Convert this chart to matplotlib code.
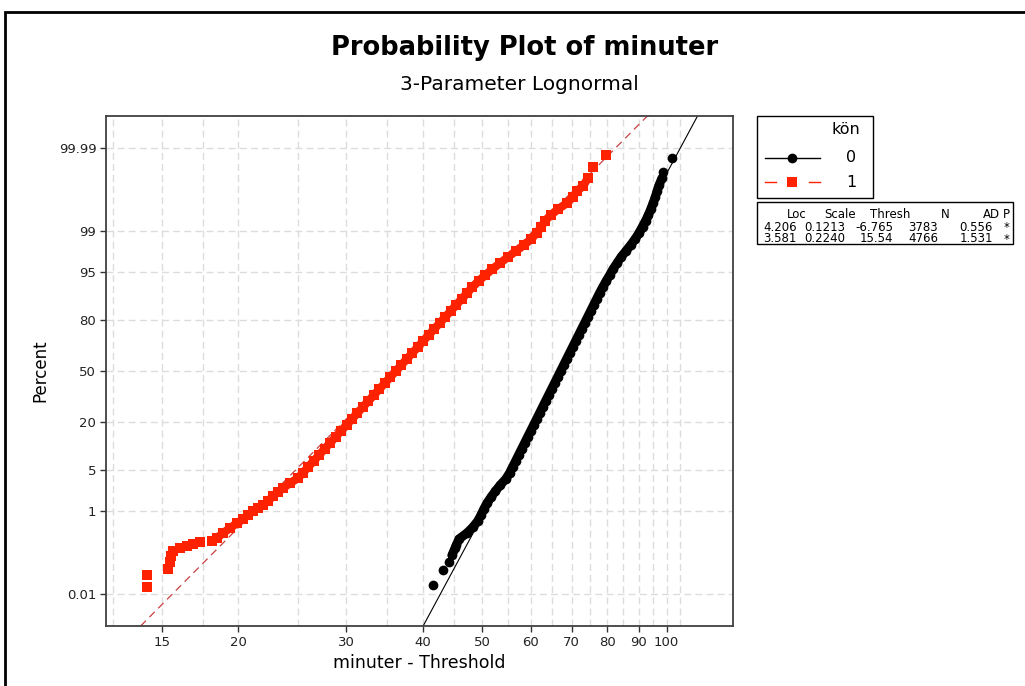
import numpy as np
import matplotlib.pyplot as plt
from matplotlib.lines import Line2D
from matplotlib.patches import Rectangle
from matplotlib.ticker import NullLocator, NullFormatter
from statistics import NormalDist

plt.rcParams['font.family'] = ['DejaVu Sans']

# kön = 1 (red squares): minuter - threshold, percent
red_minutes = [14.19, 14.19, 15.36, 15.48, 15.53, 15.65, 16.07, 16.50, 16.87, 17.32,
               18.12, 18.46, 18.88, 19.39, 19.90, 20.36, 20.74, 21.14, 21.54, 21.95,
               22.36, 22.79, 23.22, 23.66, 24.29, 25.03,
               25.48, 26.01, 26.55, 27.11, 27.66, 28.24, 28.83, 29.43, 30.04, 30.67,
               31.30, 31.95, 32.62, 33.30, 34.00, 34.71, 35.42, 36.16, 36.91, 37.68,
               38.47, 39.27, 40.08, 40.91, 41.77, 42.64, 43.53, 44.44, 45.35, 46.30,
               47.26, 48.21, 49.33, 50.63, 51.98, 53.50, 55.13, 56.75, 58.55, 60.11,
               61.39, 62.41, 63.29, 64.73, 66.58, 68.79, 70.28, 71.42,
               73.03, 74.41, 75.82, 79.61]
red_percent = [0.0158, 0.0334, 0.048, 0.072, 0.101, 0.135, 0.158, 0.176, 0.195, 0.217,
               0.228, 0.267, 0.344, 0.441, 0.561, 0.677, 0.813, 0.975, 1.113, 1.268,
               1.504, 1.849, 2.175, 2.54, 3.08, 3.70,
               4.457, 5.480, 6.681, 8.076, 9.680, 11.507, 13.567, 15.866, 18.406, 21.186,
               24.196, 27.425, 30.854, 34.458, 38.209, 42.074, 46.017, 50.0, 53.983, 57.926,
               61.791, 65.542, 69.146, 72.575, 75.804, 78.814, 81.594, 84.134, 86.433, 88.493,
               90.320, 91.924, 93.319, 94.520, 95.543, 96.407, 97.128, 97.725, 98.214, 98.610,
               98.928, 99.180, 99.379, 99.534, 99.653, 99.744, 99.813, 99.865,
               99.897, 99.935, 99.966, 99.984]

# kön = 0 (black dots)
black_minutes = [41.57, 43.16, 44.14, 44.64, 45.15,
                 45.39, 45.83, 47.23, 48.31, 49.18, 49.78, 50.31, 50.93, 51.70, 52.57,
                 53.52, 54.64, 55.43, 56.05, 56.69, 57.33, 57.98, 58.64, 59.30, 59.98,
                 60.66, 61.34, 62.04, 62.74, 63.45, 64.17, 64.90, 65.64, 66.38, 67.13,
                 67.89, 68.66, 69.44, 70.23, 71.02, 71.83, 72.64, 73.47, 74.30, 75.14,
                 75.99, 76.85, 77.72, 78.66, 79.68, 80.73, 81.77, 83.01, 84.26, 85.80,
                 87.36, 88.81, 90.16, 91.35, 92.42, 93.37, 94.21, 95.03, 95.82, 96.47,
                 97.16, 98.26, 98.63, 102.02]
black_percent = [0.0179, 0.045, 0.072, 0.107, 0.157,
                 0.187, 0.256, 0.347, 0.466, 0.621, 0.820, 1.072, 1.390, 1.786, 2.275,
                 2.872, 3.593, 4.457, 5.480, 6.681, 8.076, 9.680, 11.507, 13.567, 15.866,
                 18.406, 21.186, 24.196, 27.425, 30.854, 34.458, 38.209, 42.074, 46.017, 50.0,
                 53.983, 57.926, 61.791, 65.542, 69.146, 72.575, 75.804, 78.814, 81.594, 84.134,
                 86.433, 88.493, 90.320, 91.924, 93.319, 94.520, 95.543, 96.407, 97.128, 97.725,
                 98.214, 98.610, 98.928, 99.180, 99.379, 99.534, 99.653, 99.744, 99.813, 99.865,
                 99.902, 99.935, 99.954, 99.981]

# fitted lines (ends at the plot frame)
fit_percent = [0.00107, 99.99893]
red_fit_minutes = [13.86, 93.0]
black_fit_minutes = [40.06, 112.3]

x_ticks = [15, 20, 30, 40, 50, 60, 70, 80, 90, 100]
y_ticks = [0.01, 1, 5, 20, 50, 80, 95, 99, 99.99]
y_tick_labels = ['0.01', '1', '5', '20', '50', '80', '95', '99', '99.99']
x_grid = [12.5, 15, 17.5, 20, 25, 30, 35, 40, 45, 50, 55, 60, 65, 70, 75,
          80, 85, 90, 95, 100, 105]

table_header = ['Loc', 'Scale', 'Thresh', 'N', 'AD', 'P']
table_rows = [['4.206', '0.1213', '-6.765', '3783', '0.556', '*'],
              ['3.581', '0.2240', '15.54', '4766', '1.531', '*']]

# runs of points that overlap into a solid band in the picture
red_runs = [(2, 6), (6, 10), (10, 76)]
black_runs = [(3, 67)]

RED = '#ff2200'
nd = NormalDist()


def pct_to_z(p):
    p = np.clip(np.asarray(p, dtype=float), 1e-10, 100 - 1e-10)
    return np.vectorize(nd.inv_cdf, otypes=[float])(p / 100.0)


def z_to_pct(z):
    return np.vectorize(nd.cdf, otypes=[float])(np.asarray(z, dtype=float)) * 100.0


W, H = 1025, 686
fig = plt.figure(figsize=(W / 100, H / 100), dpi=100)


def fx(px):
    return px / W


def fy(py):
    return 1 - py / H


ax = fig.add_axes([fx(106), fy(626), fx(733) - fx(106), fy(116) - fy(626)])
ax.set_xscale('log')
ax.set_yscale('function', functions=(pct_to_z, z_to_pct))

grid_kw = dict(color='#dcdcdc', lw=1.0, dashes=(5, 3), zorder=0)
for g in x_grid:
    ax.axvline(g, **grid_kw)
for g in y_ticks:
    ax.axhline(g, **grid_kw)

ax.plot(red_fit_minutes, fit_percent, color='#c84040', lw=0.9, dashes=(6, 4), zorder=2)
ax.plot(black_fit_minutes, fit_percent, color='black', lw=0.8, zorder=2)

for a, b in red_runs:
    ax.plot(red_minutes[a:b], red_percent[a:b], '-', color=RED, lw=6,
            solid_capstyle='butt', solid_joinstyle='miter', zorder=3)
for a, b in black_runs:
    ax.plot(black_minutes[a:b], black_percent[a:b], '-', color='black', lw=6.5,
            solid_capstyle='round', solid_joinstyle='round', zorder=3)
ax.plot(red_minutes, red_percent, 's', color=RED, ms=6.5, mew=0, zorder=3)
ax.plot(black_minutes, black_percent, 'o', color='black', ms=7, mew=0, zorder=3)

ax.set_xlim(12.17, 128.3)
ax.set_ylim(fit_percent[0], fit_percent[1])

ax.set_xticks(x_ticks)
ax.set_xticklabels([str(t) for t in x_ticks])
ax.xaxis.set_minor_locator(NullLocator())
ax.xaxis.set_minor_formatter(NullFormatter())
ax.set_yticks(y_ticks)
ax.set_yticklabels(y_tick_labels)
ax.yaxis.set_minor_locator(NullLocator())
ax.tick_params(axis='both', direction='out', length=4, width=1, color='#333333',
               labelsize=9.5, labelcolor='#222222', pad=3)
for s in ax.spines.values():
    s.set_color('#404040')
    s.set_linewidth(1.3)

ax.set_xlabel('minuter - Threshold', fontsize=12.5, labelpad=4)
ax.set_ylabel('Percent', fontsize=12, labelpad=7)

fig.text(fx(525), fy(48), 'Probability Plot of minuter', ha='center', va='center',
         fontsize=18.5, fontweight='bold')
fig.text(fx(519), fy(84), '3-Parameter Lognormal', ha='center', va='center', fontsize=14.5)

# outer frame
fig.add_artist(Rectangle((fx(5), -0.1), 2, fy(12) + 0.1, transform=fig.transFigure,
                         fill=False, ec='black', lw=2))

# legend box
fig.add_artist(Rectangle((fx(757), fy(198)), fx(873) - fx(757), fy(116) - fy(198),
                         transform=fig.transFigure, fill=False, ec='black', lw=1))
fig.text(fx(860), fy(130), 'kön', ha='right', va='center', fontsize=11.5)
fig.text(fx(856), fy(158), '0', ha='right', va='center', fontsize=11.5)
fig.text(fx(856), fy(182), '1', ha='right', va='center', fontsize=11.5)
fig.add_artist(Line2D([fx(765), fx(820)], [fy(158), fy(158)], transform=fig.transFigure,
                      color='black', lw=1))
fig.add_artist(Line2D([fx(792)], [fy(158)], transform=fig.transFigure, marker='o',
                      color='black', ms=7, mew=0))
for a, b in [(765, 776), (809, 820)]:
    fig.add_artist(Line2D([fx(a), fx(b)], [fy(182), fy(182)], transform=fig.transFigure,
                          color=RED, lw=1))
fig.add_artist(Line2D([fx(792)], [fy(182)], transform=fig.transFigure, marker='s',
                      color=RED, ms=6.5, mew=0))

# parameter table
fig.add_artist(Rectangle((fx(757), fy(244)), fx(1013) - fx(757), fy(202) - fy(244),
                         transform=fig.transFigure, fill=False, ec='black', lw=1))
head_x = [807, 856, 910, 950, 1000, 1003]
cell_x = [797, 845, 893, 938, 993, 1004]
for i, h in enumerate(table_header):
    ha = 'left' if i == 5 else 'right'
    fig.text(fx(head_x[i]), fy(214), h, ha=ha, va='center', fontsize=8.5)
for r, row in enumerate(table_rows):
    for i, c in enumerate(row):
        ha = 'left' if i == 5 else 'right'
        fig.text(fx(cell_x[i]), fy(227 + 12 * r), c, ha=ha, va='center', fontsize=8.5)

fig.savefig('out.png', dpi=100)
